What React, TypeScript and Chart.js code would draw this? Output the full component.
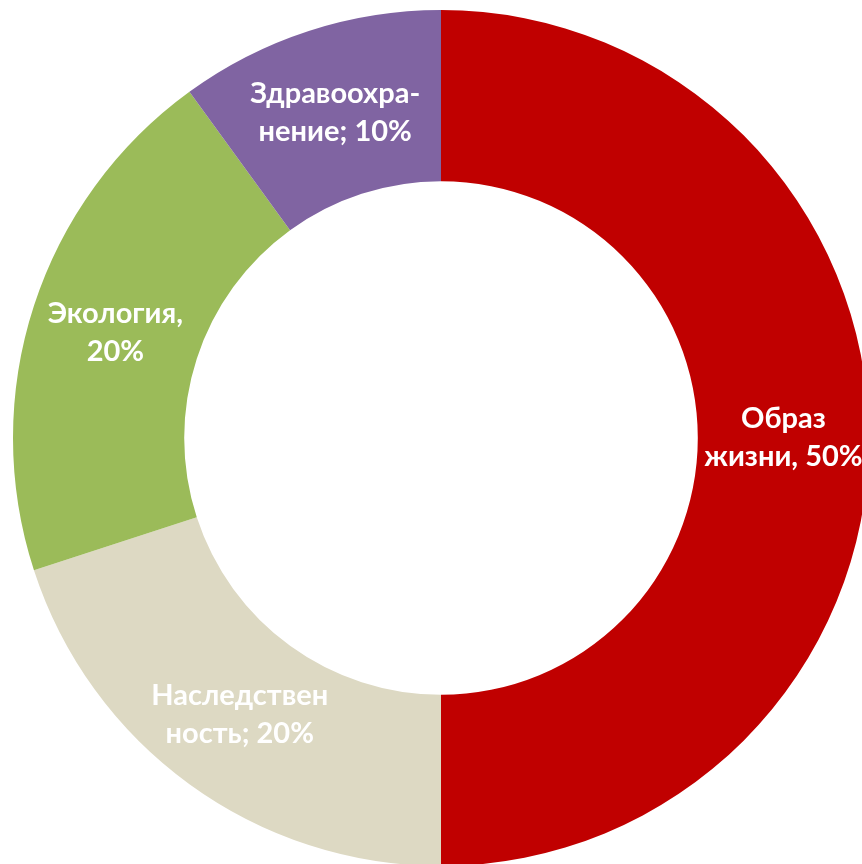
import React, { useEffect, useRef } from "react";
import { Chart, registerables } from "chart.js";

Chart.register(...registerables);

const categories = ["Образ жизни", "Наследственность", "Экология", "Здравоохранение"];
const values = [50, 20, 20, 10];
const labelLines = [
  ["Образ", "жизни, 50%"],
  ["Наследствен", "ность; 20%"],
  ["Экология,", "20%"],
  ["Здравоохра-", "нение; 10%"],
];
const colors = ["#C00000", "#DDD9C3", "#9BBB59", "#8064A2"];

const labelPlugin = {
  id: "sliceLabels",
  afterDatasetsDraw(chart: any) {
    const ctx = chart.ctx;
    const meta = chart.getDatasetMeta(0);
    ctx.save();
    ctx.fillStyle = "#FFFFFF";
    ctx.font = "bold 29px Lato";
    ctx.textAlign = "center";
    ctx.textBaseline = "middle";
    const lh = 38;
    meta.data.forEach((arc: any, i: number) => {
      const p = arc.tooltipPosition();
      const lines = labelLines[i];
      const start = p.y - ((lines.length - 1) * lh) / 2;
      lines.forEach((t, j) => ctx.fillText(t, p.x, start + j * lh));
    });
    ctx.restore();
  },
};

export default function App() {
  const ref = useRef<HTMLCanvasElement>(null);
  useEffect(() => {
    document.body.style.overflow = "hidden";
    const chart = new Chart(ref.current!, {
      type: "doughnut",
      data: {
        labels: categories,
        datasets: [
          {
            data: values,
            backgroundColor: colors,
            borderWidth: 0,
            hoverOffset: 0,
          },
        ],
      },
      options: {
        responsive: false,
        animation: false,
        cutout: "60%",
        layout: { padding: 10 },
        events: [],
        plugins: {
          legend: { display: false },
          tooltip: { enabled: false },
        },
      },
      plugins: [labelPlugin],
    });
    return () => chart.destroy();
  }, []);
  return (
    <div style={{ position: "fixed", left: 0, top: 0, width: 882, height: 876 }}>
      <canvas ref={ref} width={882} height={876} style={{ width: 882, height: 876 }} />
    </div>
  );
}
